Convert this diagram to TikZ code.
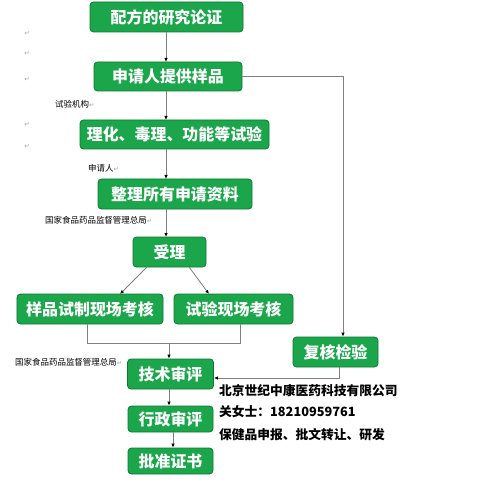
\documentclass[tikz,border=0pt]{standalone}
\usepackage{fontspec}
\usepackage{xcolor}
\usepackage{tikz}
\usetikzlibrary{calc}
\usetikzlibrary{positioning, arrows.meta}
\newfontfamily\cjk{Noto Sans CJK SC}
\newfontfamily\symfont{DejaVu Sans}
\definecolor{boxgreen}{HTML}{1BA64B}
\definecolor{boxedge}{HTML}{0C7A34}
\definecolor{linegray}{HTML}{808080}
\newcommand{\ret}{{\symfont\color{gray!70}\fontsize{6.5}{6.5}\selectfont ↵}}

\begin{document}
\begin{tikzpicture}[x=1bp,y=-1bp,
                    main node/.style={rectangle,rounded corners=3.5bp,fill=boxgreen,draw=boxedge,line width=0.8bp,
                                      text=white,font=\cjk\bfseries\fontsize{16}{16}\selectfont,inner sep=0pt},
                    side label/.style={font=\cjk\fontsize{8.5}{9}\selectfont,inner sep=0pt,anchor=west},
                    link/.style={draw=linegray,line width=0.8bp},
                    arrow/.style={link,-{Latex[length=4bp,width=3.5bp,color=black]}}]
\useasboundingbox (0,0) rectangle (499,487);

%Main column of boxes
 \node[main node,minimum width=153bp,minimum height=30bp] (Study)   at (166.5,17)  {配方的研究论证};
 \node[main node,minimum width=148bp,minimum height=29bp] (Sample)  at (168,76.5)  {申请人提供样品};
 \node[main node,minimum width=189bp,minimum height=29bp] (Tests)   at (174.5,134.5) {理化、毒理、功能等试验};
 \node[main node,minimum width=154bp,minimum height=30bp] (Papers)  at (175,194)   {整理所有申请资料};
 \node[main node,minimum width=73bp,minimum height=30bp]  (Accept)  at (169.5,252) {受理};
 \node[main node,minimum width=146bp,minimum height=30bp] (SiteA)   at (90,309)    {样品试制现场考核};
 \node[main node,minimum width=119bp,minimum height=30bp] (SiteB)   at (233.5,309) {试验现场考核};
 \node[main node,minimum width=86bp,minimum height=30bp]  (Tech)    at (170.5,374) {技术审评};
 \node[main node,minimum width=85bp,minimum height=30bp]  (Recheck) at (335.5,352) {复核检验};
 \node[main node,minimum width=85bp,minimum height=26bp]  (Admin)   at (170.5,419) {行政审评};
 \node[main node,minimum width=85bp,minimum height=26bp]  (Cert)    at (170.5,461) {批准证书};

%Labels to the side
 \foreach \y [count=\i] in {33,53,79,124,146}
   \node[inner sep=0pt] (Ret\i) at (27,\y) {\ret};

 \node[side label] (Lab1) at (55,104)  {试验机构\ret};
 \node[side label] (Lab2) at (88,168)  {申请人\ret};
 \node[side label] (Lab3) at (45,220)  {国家食品药品监督管理总局\ret};
 \node[side label] (Lab4) at (15,362)  {国家食品药品监督管理总局\ret};

%Connectors
 \draw[arrow] (166,32) -- (166,62);
 \draw[arrow] (166,91) -- (166,120);
 \draw[arrow] (166,149) -- (166,179);
 \draw[arrow] (166,209) -- (166,237);
 \draw[arrow] (147,267) -- (120,294);
 \draw[arrow] (189,267) -- (209,294);
 \draw[link] (SiteA.south -| 87,0) |- (240,343) -- (SiteB.south -| 240,0);
 \draw[arrow] (169,343) -- (Tech.north -| 169,0);
 \draw[arrow] (Sample.east) -| (Recheck.north -| 343,0);
 \draw[arrow] (Recheck.south -| 339,0) |- (Tech.east |- 0,378);
 \draw[arrow] (Tech.south -| 169,0) -- (Admin.north -| 169,0);
 \draw[arrow] (Admin.south -| 173,0) -- (Cert.north -| 173,0);

%Company note
 \node[font=\cjk\bfseries\fontsize{12.8}{13}\selectfont,anchor=west,inner sep=0pt,align=left] (Note) at (219,391)
   {北京世纪中康医药科技有限公司};
 \node[font=\cjk\bfseries\fontsize{12.8}{13}\selectfont,anchor=west,inner sep=0pt] (Phone) at (219,412)
   {关女士：18210959761};
 \node[font=\cjk\bfseries\fontsize{12.8}{13}\selectfont,anchor=west,inner sep=0pt] (Biz) at (219,435)
   {保健品申报、批文转让、研发};

\end{tikzpicture}
\end{document}
